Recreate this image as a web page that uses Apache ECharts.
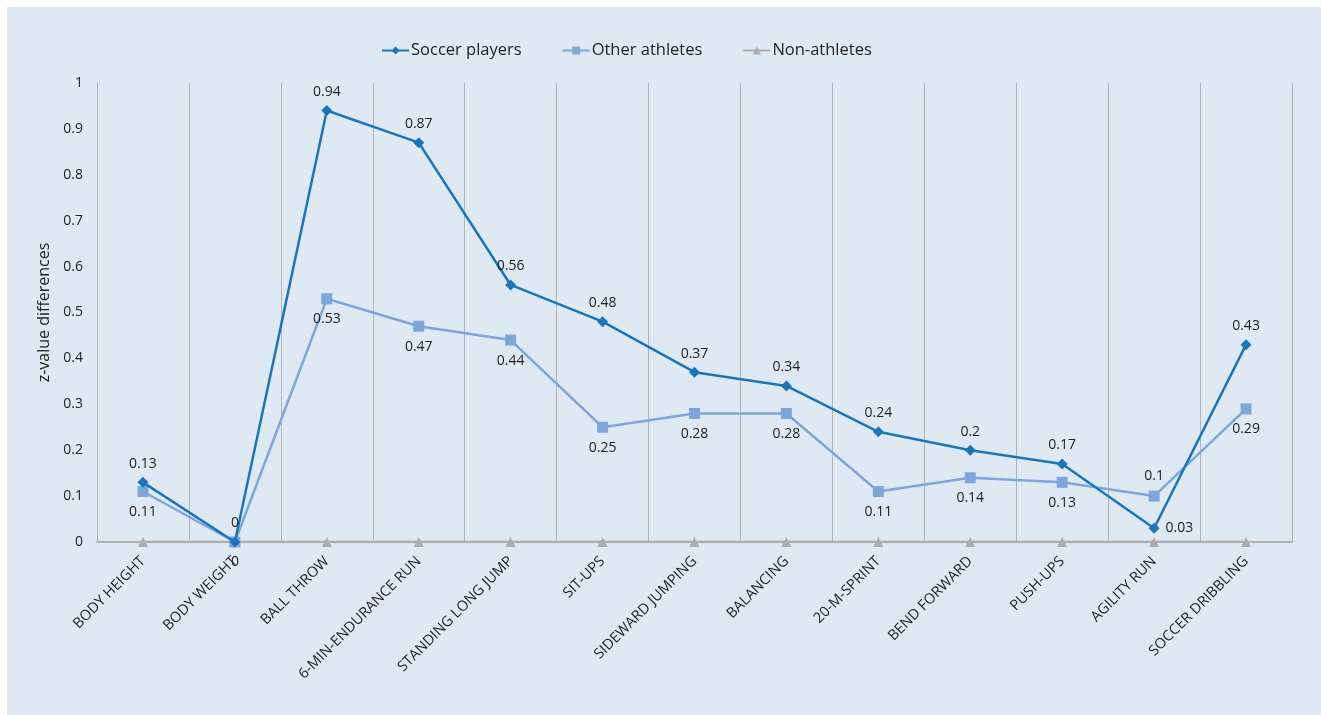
<!DOCTYPE html>
<html>
<head>
<meta charset="utf-8">
<script src="https://cdn.jsdelivr.net/npm/echarts@6/dist/echarts.min.js"></script>
<style>
  html, body { margin: 0; padding: 0; background: #ffffff; }
  #panel { position: absolute; left: 7px; top: 7px; right: 0; bottom: 0; background: #dfe9f4; }
  #chart { position: absolute; left: 0; top: 0; width: 1321px; height: 715px; }
</style>
</head>
<body>
<div id="panel"></div>
<div id="chart"></div>
<script>
// Motor test categories
const categories = [
  'BODY HEIGHT', 'BODY WEIGHT', 'BALL THROW', '6-MIN-ENDURANCE RUN',
  'STANDING LONG JUMP', 'SIT-UPS', 'SIDEWARD JUMPING', 'BALANCING',
  '20-M-SPRINT', 'BEND FORWARD', 'PUSH-UPS', 'AGILITY RUN', 'SOCCER DRIBBLING'
];

// z-value differences per group
const soccerPlayers = [0.13, 0, 0.94, 0.87, 0.56, 0.48, 0.37, 0.34, 0.24, 0.2, 0.17, 0.03, 0.43];
const otherAthletes = [0.11, 0, 0.53, 0.47, 0.44, 0.25, 0.28, 0.28, 0.11, 0.14, 0.13, 0.1, 0.29];
const nonAthletes   = [0, 0, 0, 0, 0, 0, 0, 0, 0, 0, 0, 0, 0];

const yTicks = [0, 0.1, 0.2, 0.3, 0.4, 0.5, 0.6, 0.7, 0.8, 0.9, 1];

const FONT = '"Open Sans", "Noto Sans", sans-serif';
const C_SOCCER = '#1b75bb';
const C_OTHER = '#7fa6d9';
const C_NON = '#adadad';

// per-point label placement where the default would collide
const soccerLabelPos = { 11: 'right' };
const otherLabelPos = { 11: 'top' };

const labelText = v => String(v);

function withLabels(values, defaultPos, overrides) {
  return values.map((v, i) => ({
    value: v,
    label: { position: overrides[i] || defaultPos }
  }));
}

const chart = echarts.init(document.getElementById('chart'), null, { renderer: 'canvas' });

chart.setOption({
  backgroundColor: 'transparent',
  animation: false,
  textStyle: { fontFamily: FONT },
  legend: {
    top: 37,
    left: 376,
    itemGap: 40,
    itemWidth: 27,
    itemHeight: 10,
    textStyle: { fontFamily: FONT, fontSize: 16.5, color: '#222', padding: [0, 0, 0, -3] },
    data: ['Soccer players', 'Other athletes', 'Non-athletes']
  },
  grid: { left: 97, right: 29, top: 83, bottom: 173, containLabel: false },
  xAxis: {
    type: 'category',
    data: categories,
    boundaryGap: true,
    axisLine: { show: true, lineStyle: { color: '#b3b3b3', width: 2 } },
    axisTick: { show: false },
    splitLine: { show: true, lineStyle: { color: '#b3b3b3', width: 1 } },
    axisLabel: {
      interval: 0,
      rotate: 45,
      margin: 17,
      fontFamily: FONT,
      fontSize: 14.5,
      color: '#222'
    }
  },
  yAxis: {
    type: 'value',
    min: 0,
    max: 1,
    interval: 0.1,
    name: 'z-value differences',
    nameLocation: 'middle',
    nameGap: 44,
    nameRotate: 90,
    nameTextStyle: { fontFamily: FONT, fontSize: 16, color: '#222' },
    axisLine: { show: true, lineStyle: { color: '#b3b3b3', width: 1 } },
    axisTick: { show: false },
    splitLine: { show: false },
    axisLabel: {
      fontFamily: FONT,
      fontSize: 14,
      color: '#222',
      margin: 14,
      formatter: v => {
        const t = yTicks.find(x => Math.abs(x - v) < 1e-9);
        return t === undefined ? '' : String(t);
      }
    }
  },
  series: [
    {
      name: 'Non-athletes',
      type: 'line',
      data: nonAthletes,
      symbol: 'triangle',
      symbolSize: 10,
      z: 1,
      itemStyle: { color: C_NON },
      lineStyle: { color: C_NON, width: 2.5 }
    },
    {
      name: 'Other athletes',
      type: 'line',
      data: withLabels(otherAthletes, 'bottom', otherLabelPos),
      symbol: 'rect',
      symbolSize: 11,
      z: 2,
      itemStyle: { color: C_OTHER },
      lineStyle: { color: C_OTHER, width: 2.5 },
      label: {
        show: true,
        distance: 8,
        fontFamily: FONT,
        fontSize: 14,
        color: '#222',
        formatter: p => labelText(p.value)
      }
    },
    {
      name: 'Soccer players',
      type: 'line',
      data: withLabels(soccerPlayers, 'top', soccerLabelPos),
      symbol: 'diamond',
      symbolSize: 11,
      z: 3,
      itemStyle: { color: C_SOCCER },
      lineStyle: { color: C_SOCCER, width: 2.5 },
      label: {
        show: true,
        distance: 6,
        fontFamily: FONT,
        fontSize: 14,
        color: '#222',
        formatter: p => labelText(p.value)
      }
    }
  ]
});
</script>
</body>
</html>
